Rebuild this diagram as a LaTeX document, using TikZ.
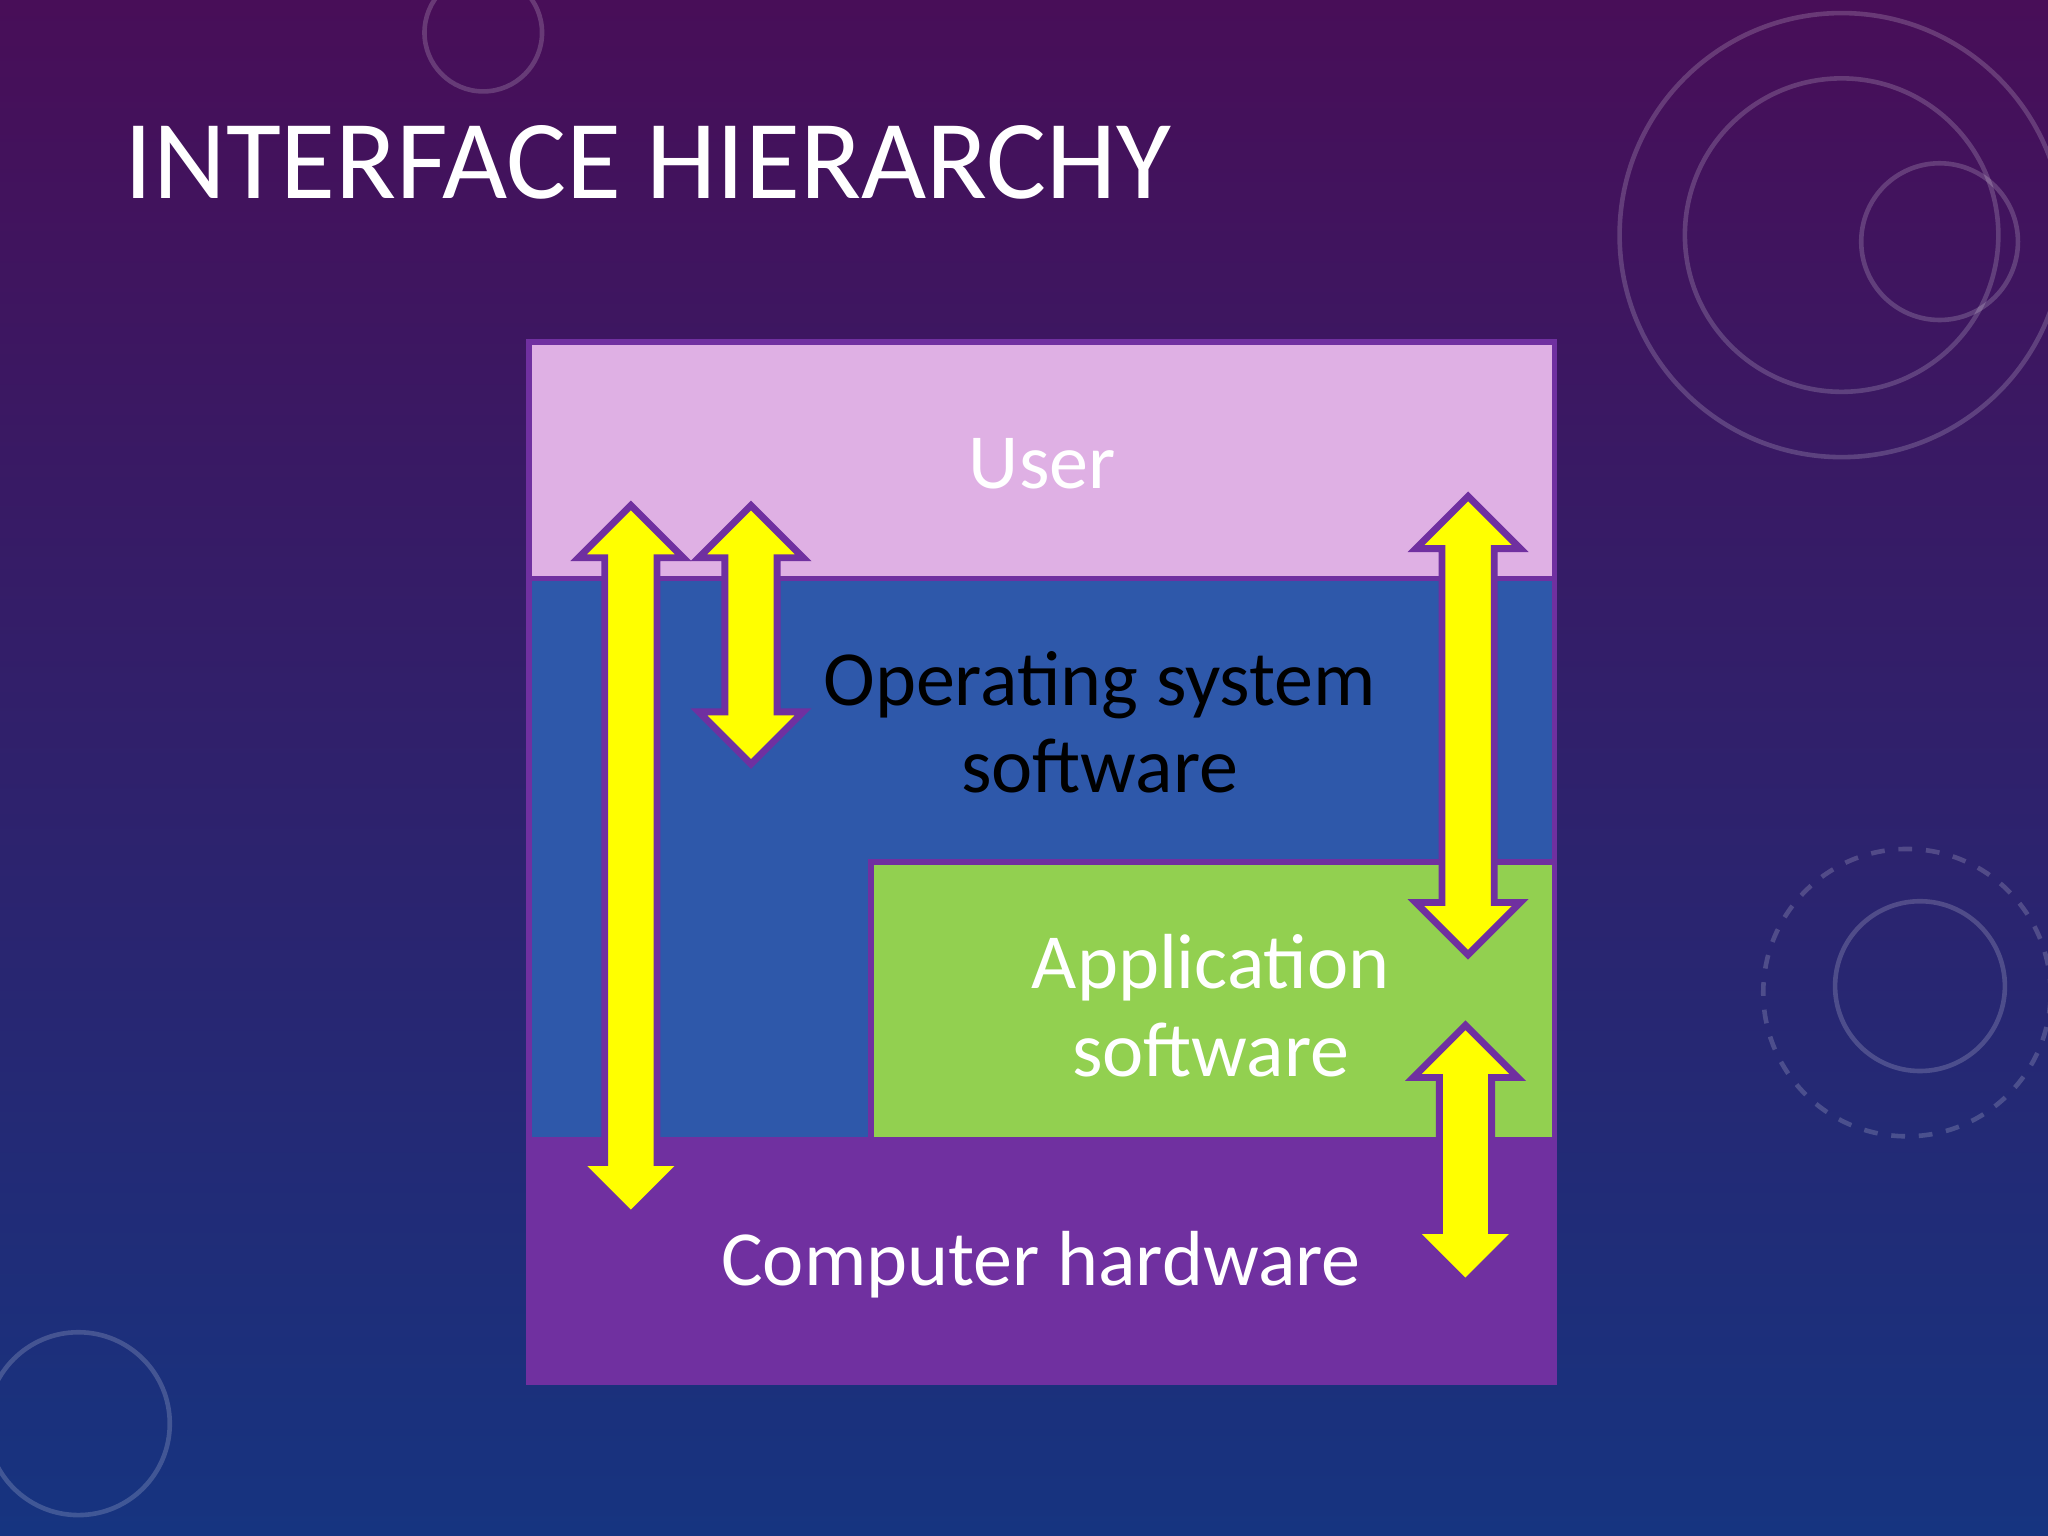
\documentclass[tikz,border=0pt]{standalone}
\usepackage{fontspec}
\setmainfont{Carlito}
\definecolor{bgtop}{RGB}{72,14,88}
\definecolor{bgbot}{RGB}{22,52,128}
\definecolor{userc}{RGB}{223,176,228}
\definecolor{osc}{RGB}{46,88,170}
\definecolor{appc}{RGB}{146,208,80}
\definecolor{hwc}{RGB}{112,48,160}
\definecolor{arrc}{RGB}{255,255,0}
\newcommand{\dblarrow}[3]{% x, ytop, ybottom (pixels)
  \draw[arrowbox] (#1-20,-#2-40) -- (#1-40,-#2-40) -- (#1,-#2) -- (#1+40,-#2-40) -- (#1+20,-#2-40)
    -- (#1+20,-#3+40) -- (#1+40,-#3+40) -- (#1,-#3) -- (#1-40,-#3+40) -- (#1-20,-#3+40) -- cycle;}
\begin{document}
\begin{tikzpicture}[x=0.01cm,y=0.01cm,
  layer/.style={draw=hwc,line width=1.2pt},
  arrowbox/.style={fill=arrc,draw=hwc,line width=1.5pt,line join=miter},
  lbl/.style={font=\fontsize{17}{20}\selectfont}]
\useasboundingbox (0,0) rectangle (1568,-1176);
\shade[top color=bgtop,bottom color=bgbot] (0,0) rectangle (1568,-1176);
\begin{scope}[draw=white,opacity=0.18,line width=1pt]
\draw (1410,-180) circle (170);
\draw (1410,-180) circle (120);
\draw (1485,-185) circle (60);
\draw (1470,-755) circle (65);
\draw[dashed] (1460,-760) circle (110);
\draw (60,-1090) circle (70);
\draw (370,-25) circle (45);
\end{scope}
\node[anchor=base west,text=white,font=\fontsize{24.5}{28}\selectfont,inner sep=0] (title) at (95,-152) {INTERFACE HIERARCHY};
\path[layer,fill=userc] (405,-262) rectangle (1190,-443) node[pos=0.5,opacity=0] (user) {};
\path[layer,fill=osc] (405,-443) rectangle (1190,-873);
\path[layer,fill=appc] (667,-660) rectangle (1190,-873);
\path[layer,fill=hwc] (405,-873) rectangle (1190,-1058);
\node[lbl,text=white] (u) at (798,-355) {User};
\node[lbl,text=black,align=center] (os) at (842,-553) {Operating system\\[-1pt]software};
\node[lbl,text=white,align=center] (app) at (927,-770) {Application\\[-1pt]software};
\node[lbl,text=white] (hw) at (797,-968) {Computer hardware};
\dblarrow{483}{387}{930}
\dblarrow{575}{387}{585}
\dblarrow{1124}{380}{731}
\dblarrow{1122}{785}{982}
\end{tikzpicture}
\end{document}
